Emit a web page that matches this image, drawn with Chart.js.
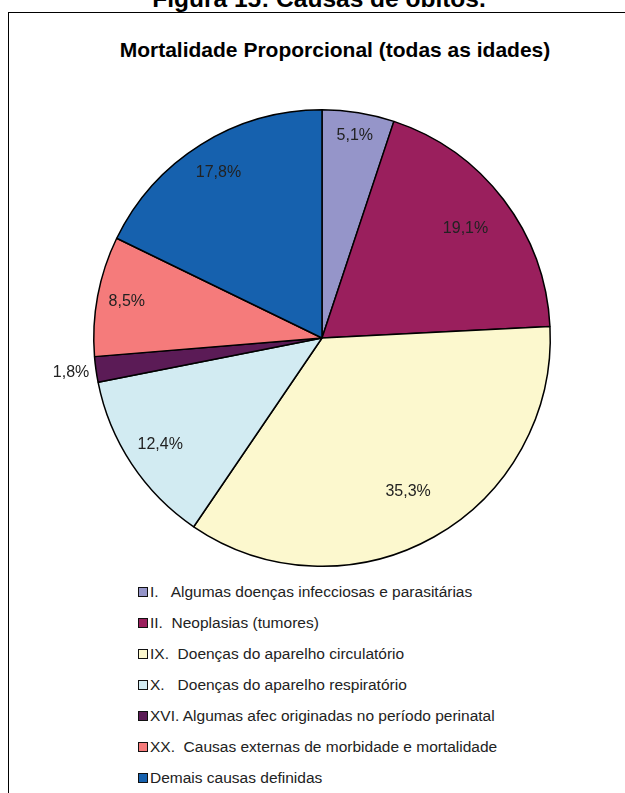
<!DOCTYPE html>
<html>
<head>
<meta charset="utf-8">
<script src="https://cdn.jsdelivr.net/npm/chart.js@4.4.1/dist/chart.umd.min.js"></script>
<style>
  body { margin: 0; background: #fff; font-family: "Liberation Sans", Arial, sans-serif; }
  #page { position: relative; width: 625px; height: 793px; overflow: hidden; }
  #fig { position: absolute; left: 0; width: 638px; top: -10px; text-align: center; font-weight: bold; font-size: 24.5px; line-height: 18px; color: #000; }
  #box { position: absolute; left: 8px; top: 12px; width: 640px; height: 800px; border-left: 1.5px solid #000; border-top: 1.5px solid #000; }
  #titulo { position: absolute; left: 0; width: 670px; top: 38px; text-align: center; font-weight: bold; font-size: 21px; color: #000; }
  canvas { position: absolute; left: 0; top: 0; }
  #legend { position: absolute; left: 138px; top: 583px; font-size: 15.5px; color: #222; }
  #legend div { height: 31px; line-height: 18px; white-space: pre; }
  #legend span.sw { display: inline-block; width: 8px; height: 8px; border: 1px solid #111; margin-right: 2px; vertical-align: 0px; }
</style>
</head>
<body>
<div id="page">
  <div id="fig">Figura 15: Causas de óbitos.</div>
  <div id="box"></div>
  <div id="titulo">Mortalidade Proporcional (todas as idades)</div>
  <div style="position:absolute;left:0;top:0;width:625px;height:580px"><canvas id="pie"></canvas></div>
  <div id="legend"></div>
</div>
<script>
// Dados do gráfico
const causas = [
  'I.   Algumas doenças infecciosas e parasitárias',
  'II.  Neoplasias (tumores)',
  'IX.  Doenças do aparelho circulatório',
  'X.   Doenças do aparelho respiratório',
  'XVI. Algumas afec originadas no período perinatal',
  'XX.  Causas externas de morbidade e mortalidade',
  'Demais causas definidas'
];
const percentuais = [5.1, 19.1, 35.3, 12.4, 1.8, 8.5, 17.8];
const rotulos = ['5,1%', '19,1%', '35,3%', '12,4%', '1,8%', '8,5%', '17,8%'];

const cores = ['#9595C9', '#9A1F5D', '#FCF8CE', '#D2EBF2', '#5B1B56', '#F57B7B', '#1661AE'];
// distância relativa do rótulo ao centro (posição "melhor ajuste")
const raioRotulo = [0.9, 0.79, 0.77, 0.85, 1.11, 0.87, 0.855];

// Legenda em HTML
const leg = document.getElementById('legend');
causas.forEach((c, i) => {
  leg.insertAdjacentHTML('beforeend',
    `<div><span class="sw" style="background:${cores[i]}"></span>${c}</div>`);
});

// Rótulos de porcentagem
const pluginRotulos = {
  id: 'rotulos',
  afterDatasetsDraw(chart) {
    const ctx = chart.ctx;
    const meta = chart.getDatasetMeta(0);
    ctx.save();
    ctx.font = '16px "Liberation Sans", Arial, sans-serif';
    ctx.fillStyle = '#222';
    ctx.textAlign = 'center';
    ctx.textBaseline = 'middle';
    meta.data.forEach((arc, i) => {
      const meio = (arc.startAngle + arc.endAngle) / 2;
      const r = arc.outerRadius * raioRotulo[i];
      ctx.fillText(rotulos[i], arc.x + Math.cos(meio) * r, arc.y + Math.sin(meio) * r);
    });
    ctx.restore();
  }
};

new Chart(document.getElementById('pie'), {
  type: 'pie',
  data: {
    labels: causas,
    datasets: [{ data: percentuais, backgroundColor: cores, borderColor: '#000', borderWidth: 1.5 }]
  },
  options: {
    responsive: true,
    maintainAspectRatio: false,
    animation: false,
    layout: { padding: { left: 93, right: 74, top: 109, bottom: 13 } },
    plugins: { legend: { display: false }, tooltip: { enabled: false }, title: { display: false } }
  },
  plugins: [pluginRotulos]
});
</script>
</body>
</html>
